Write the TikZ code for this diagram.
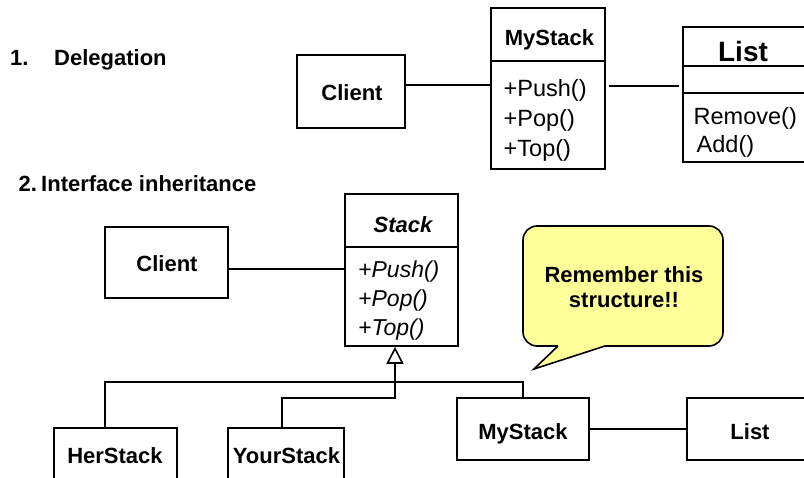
\documentclass[tikz,border=0pt]{standalone}
\usepackage{fontspec}
\setmainfont{Liberation Sans}
\usetikzlibrary{arrows.meta}
\definecolor{noteyellow}{HTML}{FFFF99}
\tikzset{
  box/.style={draw, line width=1.6pt, inner sep=0pt, fill=white},
  conn/.style={line width=1.8pt},
  btxt/.style={inner sep=0pt, anchor=base, font=\fontsize{22}{26}\selectfont\bfseries},
  rtxt/.style={inner sep=0pt, anchor=base west, font=\fontsize{23.5}{28}\selectfont},
  itxt/.style={inner sep=0pt, anchor=base west, font=\fontsize{23}{28}\selectfont\itshape},
}
\begin{document}
\begin{tikzpicture}[x=1pt, y=-1pt]
\useasboundingbox (0,0) rectangle (804,478);
\clip (0,0) rectangle (804,478);

% ---------- 1. Delegation ----------
\node[btxt, anchor=base west] (n1) at (10,66) {1.};
\node[btxt, anchor=base west] (t1) at (54,66) {Delegation};

\node[box, minimum width=108pt, minimum height=73pt] (client1) at (351,91.5) {};
\node[btxt] (client1t) at (352,101) {Client};

\node[box, minimum width=114pt, minimum height=161pt] (ms1) at (548,88.5) {};
\draw[line width=1.6pt] (ms1.west |- 0,61) -- (ms1.east |- 0,61);
\node[btxt] (ms1t) at (549.5,46) {MyStack};
\node[rtxt] (ms1a) at (503.5,96.5) {+Push()};
\node[rtxt] (ms1b) at (503.5,126.5) {+Pop()};
\node[rtxt] (ms1c) at (503.5,156.5) {+Top()};

\node[box, minimum width=147pt, minimum height=135pt] (list1) at (756.5,94.5) {};
\draw[line width=1.6pt] (list1.west |- 0,66) -- (list1.east |- 0,66);
\draw[line width=1.6pt] (list1.west |- 0,93) -- (list1.east |- 0,93);
\node[btxt, font=\fontsize{28}{32}\selectfont\bfseries] (list1t) at (743,61.5) {List};
\node[rtxt] (list1a) at (693.5,125) {Remove()};
\node[rtxt] (list1b) at (696.5,153) {Add()};

\draw[conn] (client1.east |- 0,85) -- (ms1.west |- 0,85);
\draw[conn, shorten <=3pt, shorten >=3pt] (ms1.east |- 0,86) -- (list1.west |- 0,86);

% ---------- 2. Interface inheritance ----------
\node[btxt, anchor=base west] (n2) at (18.5,191.7) {2.};
\node[btxt, anchor=base west] (t2) at (41,191.7) {Interface inheritance};

\node[box, minimum width=123pt, minimum height=71pt] (client2) at (166.5,262.5) {};
\node[btxt] (client2t) at (167,271.7) {Client};

\node[box, minimum width=113pt, minimum height=152pt] (stack) at (401.5,270) {};
\draw[line width=1.6pt] (stack.west |- 0,247) -- (stack.east |- 0,247);
\node[btxt, font=\fontsize{22}{26}\selectfont\bfseries\itshape] (stackt) at (403,232.7) {Stack};
\node[itxt] (stacka) at (358,277.3) {+Push()};
\node[itxt] (stackb) at (358,306.7) {+Pop()};
\node[itxt] (stackc) at (358,335.7) {+Top()};

\draw[conn] (client2.east |- 0,269) -- (stack.west |- 0,269);

\node[box, minimum width=123pt, minimum height=72pt] (her) at (115.5,464) {};
\node[btxt] (hert) at (115,464) {HerStack};
\node[box, minimum width=116pt, minimum height=72pt] (your) at (286,464) {};
\node[btxt] (yourt) at (286.5,464) {YourStack};
\node[box, minimum width=132pt, minimum height=62pt] (ms2) at (523,429) {};
\node[btxt] (ms2t) at (523,439.3) {MyStack};
\node[box, minimum width=143pt, minimum height=62pt] (list2) at (758.5,429) {};
\node[btxt] (list2t) at (750,439.3) {List};

\draw[conn] (ms2) -- (list2);

\coordinate (yb) at (282,398);
\coordinate (hub) at (395,398);
\coordinate (hj) at (105,382);
\coordinate (mj) at (523,382);
\draw[conn] (her.north -| hj) -- (hj) -- (mj) -- (ms2.north);
\draw[conn, -{Triangle[open, length=17pt, width=17pt, line width=1.6pt]}]
  (your.north -| yb) -- (yb) -- (hub) -- (stack.south -| hub);

% ---------- callout ----------
\node[draw, line width=1.6pt, fill=noteyellow, rounded corners=14pt,
      minimum width=200pt, minimum height=120pt, inner sep=0pt] (note) at (623,286) {};
\fill[noteyellow] (558,343.5) -- (605,343.5) -- (605,346) -- (534,369) -- (558,346) -- cycle;
\draw[line width=1.6pt, line join=miter] (558,346) -- (534,369) -- (605,346);
\node[btxt] (notea) at (624,282.7) {Remember this};
\node[btxt] (noteb) at (624,307.3) {structure!!};
\end{tikzpicture}
\end{document}
